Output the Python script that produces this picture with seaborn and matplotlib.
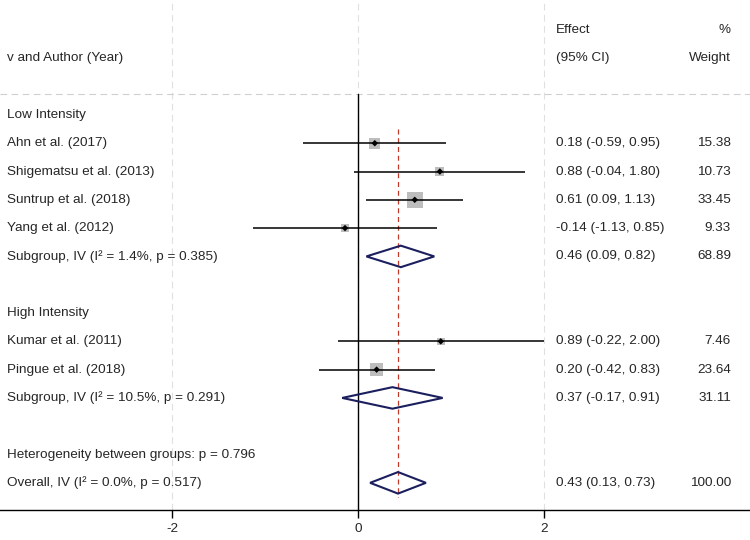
import numpy as np
import pandas as pd
import seaborn as sns
import matplotlib.pyplot as plt
from matplotlib.patches import Polygon

# study rows (row index counted from "Low Intensity" = 0)
studies = ["Ahn et al. (2017)", "Shigematsu et al. (2013)", "Suntrup et al. (2018)",
           "Yang et al. (2012)", "Kumar et al. (2011)", "Pingue et al. (2018)"]
study_rows = [1, 2, 3, 4, 8, 9]
est = [0.18, 0.88, 0.61, -0.14, 0.89, 0.20]
lo = [-0.59, -0.04, 0.09, -1.13, -0.22, -0.42]
hi = [0.95, 1.80, 1.13, 0.85, 2.00, 0.83]
weight = [15.38, 10.73, 33.45, 9.33, 7.46, 23.64]

# pooled rows
pooled_labels = ["Subgroup, IV (I\u00b2 = 1.4%, p = 0.385)",
                 "Subgroup, IV (I\u00b2 = 10.5%, p = 0.291)",
                 "Overall, IV (I\u00b2 = 0.0%, p = 0.517)"]
pooled_rows = [5, 10, 13]
pooled_est = [0.46, 0.37, 0.43]
pooled_lo = [0.09, -0.17, 0.13]
pooled_hi = [0.82, 0.91, 0.73]
pooled_weight = [68.89, 31.11, 100.00]

header_labels = ["Low Intensity", "High Intensity", "Heterogeneity between groups: p = 0.796"]
header_rows = [0, 7, 12]

xticks = [-2, 0, 2]
overall = 0.43

df = pd.DataFrame({"study": studies, "row": study_rows, "est": est,
                   "lo": lo, "hi": hi, "weight": weight})

sns.set_style("white")
plt.rcParams["font.family"] = ["Liberation Sans", "DejaVu Sans"]
fs = 9.7

fig = plt.figure(figsize=(7.5, 5.4), dpi=100)
ax = fig.add_axes([0, 30 / 540, 1, 510 / 540])
ax.set_xlim(-3.85, 4.215)
ax.set_ylim(13.96, -4.06)

# faint grid
for t in xticks:
    ax.axvline(t, color="#e0e0e0", lw=0.8, ls=(0, (6, 4)), zorder=0)
ax.axhline(-0.75, color="#cfcfcf", lw=0.8, ls=(0, (6, 4)), zorder=0)

# null line and overall line
ax.plot([0, 0], [-0.75, 13.96], color="black", lw=1.0, zorder=2)
ax.plot([overall, overall], [0.5, 13.5], color="#c0392b", lw=0.9,
        ls=(0, (4, 3)), zorder=1)

# confidence intervals
ax.hlines(df["row"], df["lo"], df["hi"], color="black", lw=1.1, zorder=3)
# weight boxes, area proportional to weight
sns.scatterplot(data=df, x="est", y="row", size="weight", sizes=(0, 390),
                size_norm=(0, 100), marker="s", color="#bdbdbd",
                edgecolor="none", ax=ax, zorder=2, legend=False)
sns.scatterplot(data=df, x="est", y="row", marker="D", s=11, color="black",
                edgecolor="none", ax=ax, zorder=4, legend=False)

# pooled diamonds
for r, e, l, h in zip(pooled_rows, pooled_est, pooled_lo, pooled_hi):
    ax.add_patch(Polygon([[l, r], [e, r - 0.38], [h, r], [e, r + 0.38]],
                         closed=True, fill=False, edgecolor="#1b1f5e",
                         lw=1.5, zorder=5))

# text columns
xl, xe, xw = -3.77, 2.13, 4.01
ax.text(xl, -2, "v and Author (Year)", va="center", ha="left", fontsize=fs)
ax.text(xe, -3, "Effect", va="center", ha="left", fontsize=fs)
ax.text(xe, -2, "(95% CI)", va="center", ha="left", fontsize=fs)
ax.text(xw, -3, "%", va="center", ha="right", fontsize=fs)
ax.text(xw, -2, "Weight", va="center", ha="right", fontsize=fs)

for lab, r in zip(header_labels, header_rows):
    ax.text(xl, r, lab, va="center", ha="left", fontsize=fs)

for s, r, e, l, h, w in zip(studies, study_rows, est, lo, hi, weight):
    ax.text(xl, r, s, va="center", ha="left", fontsize=fs)
    ax.text(xe, r, f"{e:.2f} ({l:.2f}, {h:.2f})", va="center", ha="left", fontsize=fs)
    ax.text(xw, r, f"{w:.2f}", va="center", ha="right", fontsize=fs)

for s, r, e, l, h, w in zip(pooled_labels, pooled_rows, pooled_est, pooled_lo,
                            pooled_hi, pooled_weight):
    ax.text(xl, r, s, va="center", ha="left", fontsize=fs)
    ax.text(xe, r, f"{e:.2f} ({l:.2f}, {h:.2f})", va="center", ha="left", fontsize=fs)
    ax.text(xw, r, f"{w:.2f}", va="center", ha="right", fontsize=fs)

# axis styling
for side in ["top", "left", "right"]:
    ax.spines[side].set_visible(False)
ax.spines["bottom"].set_color("black")
ax.spines["bottom"].set_linewidth(1.0)
ax.set_yticks([])
ax.set_xticks(xticks)
ax.set_xticklabels([str(t) for t in xticks], fontsize=fs)
ax.tick_params(axis="x", length=6, width=1.0, color="black", pad=3, bottom=True)
ax.set_xlabel("")
ax.set_ylabel("")

fig.savefig("out.png", dpi=100, facecolor="white")
